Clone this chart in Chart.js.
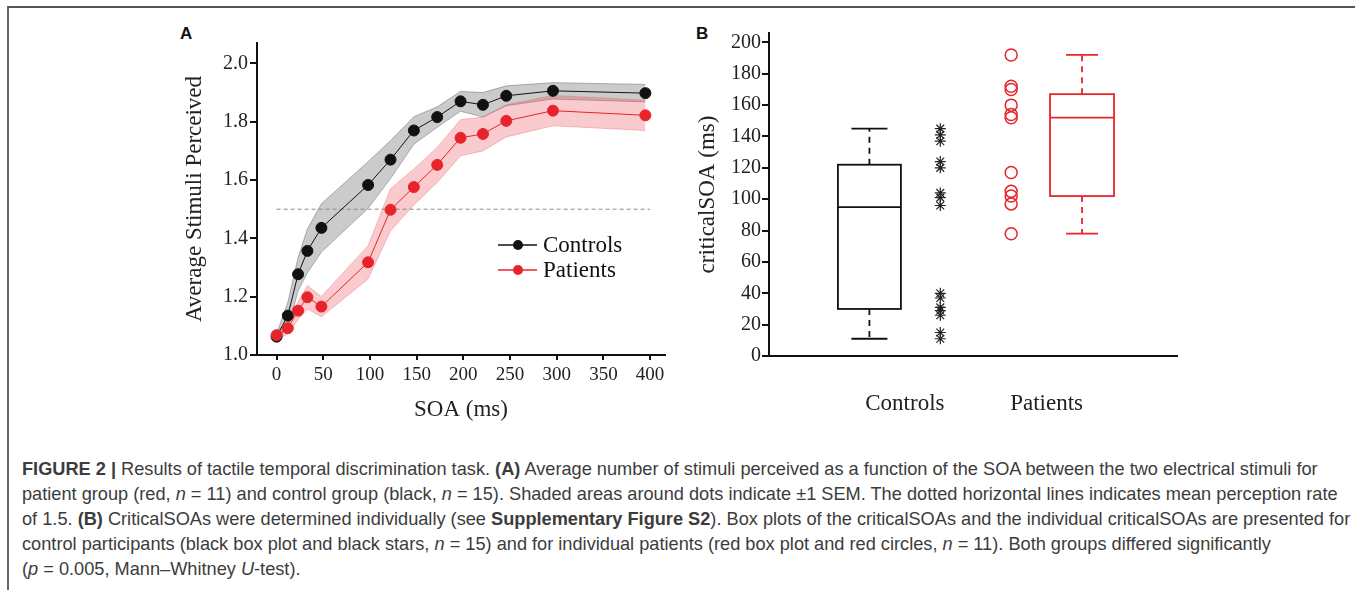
<!DOCTYPE html>
<html>
<head>
<meta charset="utf-8">
<script src="https://cdn.jsdelivr.net/npm/chart.js@4.4.1/dist/chart.umd.min.js"></script>
<style>
body { margin: 0; background: #fff; width: 1355px; height: 590px; overflow: hidden; position: relative; }
#frame { position: absolute; left: 7px; top: 6px; width: 1346px; height: 600px; border-top: 2px solid #555; border-left: 2px solid #666; border-right: 1px solid #e2e2e2; }
.tag { position: absolute; font: bold 17px "Liberation Sans", Arial, sans-serif; color: #111; }
#wrapA { position: absolute; left: 150px; top: 20px; width: 530px; height: 420px; }
#wrapB { position: absolute; left: 690px; top: 20px; width: 510px; height: 420px; }
#caption { position: absolute; left: 22px; top: 457px; font: 18.2px "Liberation Sans Narrow", "Liberation Sans", sans-serif; color: #3c3c3c; }
#caption div { height: 25px; line-height: 25px; white-space: nowrap; }
</style>
</head>
<body>
<div id="frame"></div>
<div class="tag" style="left:180px;top:24px">A</div>
<div class="tag" style="left:696px;top:24px">B</div>
<div id="wrapA"><canvas id="chartA" width="530" height="420"></canvas></div>
<div id="wrapB"><canvas id="chartB" width="510" height="420"></canvas></div>
<div id="caption">
<div><b>FIGURE 2 |</b> Results of tactile temporal discrimination task. <b>(A)</b> Average number of stimuli perceived as a function of the SOA between the two electrical stimuli for</div>
<div>patient group (red, <i>n</i> = 11) and control group (black, <i>n</i> = 15). Shaded areas around dots indicate ±1 SEM. The dotted horizontal lines indicates mean perception rate</div>
<div>of 1.5. <b>(B)</b> CriticalSOAs were determined individually (see <b>Supplementary Figure S2</b>). Box plots of the criticalSOAs and the individual criticalSOAs are presented for</div>
<div>control participants (black box plot and black stars, <i>n</i> = 15) and for individual patients (red box plot and red circles, <i>n</i> = 11). Both groups differed significantly</div>
<div>(<i>p</i> = 0.005, Mann–Whitney <i>U</i>-test).</div>
</div>
<script>
// panel A: mean stimuli perceived per SOA, with SEM
var soa = [0, 12, 23, 33, 48, 98, 122, 147, 172, 197, 221, 246, 296, 395];
var controlsMean = [1.063, 1.135, 1.277, 1.357, 1.436, 1.583, 1.670, 1.770, 1.816, 1.870, 1.858, 1.889, 1.906, 1.898];
var controlsSem = [0.010, 0.045, 0.057, 0.075, 0.083, 0.080, 0.065, 0.047, 0.035, 0.034, 0.042, 0.034, 0.028, 0.030];
var patientsMean = [1.068, 1.092, 1.152, 1.198, 1.166, 1.318, 1.498, 1.576, 1.652, 1.745, 1.758, 1.803, 1.838, 1.822];
var patientsSem = [0.015, 0.020, 0.030, 0.040, 0.035, 0.057, 0.072, 0.062, 0.060, 0.062, 0.058, 0.055, 0.052, 0.052];
var threshold = 1.5;
var thresholdRange = [0, 400];
var soaTicks = [0, 50, 100, 150, 200, 250, 300, 350, 400];
var perceivedTicks = [1.0, 1.2, 1.4, 1.6, 1.8, 2.0];

// panel B: individual criticalSOAs and box plots
var groups = ['Controls', 'Patients'];
var groupTickPos = [1.5, 3.5];
var controlsStars = [145, 141, 137, 124, 120, 104, 101, 96, 40, 37, 31, 29, 26, 15, 11];
var patientsCircles = [192, 172, 170, 160, 154, 152, 117, 105, 102, 97, 78];
var controlsBox = [11, 30, 95, 122, 145];   // min, q1, median, q3, max
var patientsBox = [78, 102, 152, 167, 192];
var criticalTicks = [0, 20, 40, 60, 80, 100, 120, 140, 160, 180, 200];

var serif = '"Liberation Serif", "Times New Roman", serif';
var BLACK = '#111111';
var RED = '#e8242b';

function band(mean, sem, sign) {
	return soa.map(function(x, i) {
		return { x: x, y: mean[i] + sign * sem[i] };
	});
}
function pairs(xs, ys) {
	return xs.map(function(x, i) { return { x: x, y: ys[i] }; });
}

var legendPlugin = {
	id: 'lineLegend',
	afterDraw: function(chart) {
		var ctx = chart.ctx;
		var area = chart.chartArea;
		var items = [chart.data.datasets[1], chart.data.datasets[0]];
		ctx.save();
		items.forEach(function(ds, i) {
			var y = area.top + 202 + i * 25;
			var x0 = area.left + 241;
			ctx.strokeStyle = ds.borderColor;
			ctx.lineWidth = 1.5;
			ctx.beginPath();
			ctx.moveTo(x0, y);
			ctx.lineTo(x0 + 39, y);
			ctx.stroke();
			ctx.fillStyle = ds.pointBackgroundColor;
			ctx.beginPath();
			ctx.arc(x0 + 20, y, 5, 0, Math.PI * 2);
			ctx.fill();
			ctx.fillStyle = BLACK;
			ctx.font = '23px ' + serif;
			ctx.textBaseline = 'middle';
			ctx.fillText(ds.label, x0 + 45, y + 1);
		});
		ctx.restore();
	}
};

var chartA = new Chart(document.getElementById('chartA').getContext('2d'), {
	type: 'line',
	data: {
		datasets: [
			{ label: 'Patients', data: pairs(soa, patientsMean), borderColor: RED, borderWidth: 1, pointBackgroundColor: RED, pointBorderColor: RED, pointRadius: 5.5, fill: false },
			{ label: 'Controls', data: pairs(soa, controlsMean), borderColor: BLACK, borderWidth: 1, pointBackgroundColor: BLACK, pointBorderColor: BLACK, pointRadius: 5.5, fill: false },
			{ label: 'threshold', data: [{ x: thresholdRange[0], y: threshold }, { x: thresholdRange[1], y: threshold }], borderColor: '#8a8a8a', borderWidth: 1, borderDash: [4, 3], pointRadius: 0, fill: false },
			{ label: 'patients upper', data: band(patientsMean, patientsSem, 1), borderColor: 'rgba(230,90,100,0.35)', borderWidth: 1, backgroundColor: 'rgba(236,70,80,0.28)', pointRadius: 0, fill: '+1' },
			{ label: 'patients lower', data: band(patientsMean, patientsSem, -1), borderColor: 'rgba(230,90,100,0.35)', borderWidth: 1, pointRadius: 0, fill: false },
			{ label: 'controls upper', data: band(controlsMean, controlsSem, 1), borderColor: 'rgba(90,90,90,0.45)', borderWidth: 1, backgroundColor: 'rgba(130,130,130,0.42)', pointRadius: 0, fill: '+1' },
			{ label: 'controls lower', data: band(controlsMean, controlsSem, -1), borderColor: 'rgba(90,90,90,0.45)', borderWidth: 1, pointRadius: 0, fill: false }
		]
	},
	options: {
		responsive: false,
		animation: false,
		layout: { padding: { top: 23, right: 15, left: 0, bottom: 0 } },
		plugins: { legend: { display: false }, tooltip: { enabled: false } },
		scales: {
			x: {
				type: 'linear', min: -21, max: 416,
				afterBuildTicks: function(scale) { scale.ticks = soaTicks.map(function(v) { return { value: v }; }); },
				afterFit: function(scale) { scale.height = 85; },
				border: { color: BLACK, width: 2 },
				grid: { drawOnChartArea: false, drawTicks: true, tickLength: 5, color: BLACK, lineWidth: 2 },
				ticks: { color: '#222', padding: 4, font: { family: serif, size: 19 }, maxRotation: 0 },
				title: { display: true, text: 'SOA (ms)', color: '#222', font: { family: serif, size: 23 }, padding: { top: 0, bottom: 16 } }
			},
			y: {
				type: 'linear', min: 1, max: 2.07,
				afterBuildTicks: function(scale) { scale.ticks = perceivedTicks.map(function(v) { return { value: v }; }); },
				afterFit: function(scale) { scale.width = 107; },
				border: { color: BLACK, width: 2 },
				grid: { drawOnChartArea: false, drawTicks: true, tickLength: 7, color: BLACK, lineWidth: 2 },
				ticks: { color: '#222', padding: 2, font: { family: serif, size: 20 }, callback: function(v) { return Number(v).toFixed(1); } },
				title: { display: true, text: 'Average Stimuli Perceived', color: '#222', font: { family: serif, size: 23 }, padding: { top: 31, bottom: 0 } }
			}
		}
	},
	plugins: [legendPlugin]
});

var boxPlugin = {
	id: 'boxes',
	afterDatasetsDraw: function(chart) {
		var ctx = chart.ctx;
		var xs = chart.scales.x;
		var ys = chart.scales.y;
		var boxes = [
			{ pos: 1, s: controlsBox, color: BLACK, half: 31.5, cap: 18 },
			{ pos: 4, s: patientsBox, color: RED, half: 32, cap: 16 }
		];
		ctx.save();
		boxes.forEach(function(b) {
			var cx = xs.getPixelForValue(b.pos);
			var yMin = ys.getPixelForValue(b.s[0]);
			var yQ1 = ys.getPixelForValue(b.s[1]);
			var yMed = ys.getPixelForValue(b.s[2]);
			var yQ3 = ys.getPixelForValue(b.s[3]);
			var yMax = ys.getPixelForValue(b.s[4]);
			ctx.strokeStyle = b.color;
			ctx.lineWidth = 1.8;
			ctx.setLineDash([]);
			ctx.strokeRect(cx - b.half, yQ3, b.half * 2, yQ1 - yQ3);
			ctx.beginPath();
			ctx.moveTo(cx - b.half, yMed); ctx.lineTo(cx + b.half, yMed);
			ctx.moveTo(cx - b.cap, yMax); ctx.lineTo(cx + b.cap, yMax);
			ctx.moveTo(cx - b.cap, yMin); ctx.lineTo(cx + b.cap, yMin);
			ctx.stroke();
			ctx.setLineDash([6, 5]);
			ctx.beginPath();
			ctx.moveTo(cx, yQ3); ctx.lineTo(cx, yMax);
			ctx.moveTo(cx, yQ1); ctx.lineTo(cx, yMin);
			ctx.stroke();
		});
		ctx.restore();
	}
};

var chartB = new Chart(document.getElementById('chartB').getContext('2d'), {
	type: 'scatter',
	data: {
		datasets: [
			{ label: 'Controls', data: controlsStars.map(function(v) { return { x: 2, y: v }; }), pointStyle: 'star', pointRadius: 5.5, borderWidth: 1.2, borderColor: '#222', backgroundColor: '#222' },
			{ label: 'Patients', data: patientsCircles.map(function(v) { return { x: 3, y: v }; }), pointStyle: 'circle', pointRadius: 6, borderWidth: 1.5, borderColor: RED, backgroundColor: 'rgba(0,0,0,0)' }
		]
	},
	options: {
		responsive: false,
		animation: false,
		layout: { padding: { top: 7, right: 23, left: 0, bottom: 0 } },
		plugins: { legend: { display: false }, tooltip: { enabled: false } },
		scales: {
			x: {
				type: 'linear', min: -0.417, max: 5.34,
				afterBuildTicks: function(scale) { scale.ticks = groupTickPos.map(function(v) { return { value: v }; }); },
				afterFit: function(scale) { scale.height = 84; },
				border: { color: BLACK, width: 2 },
				grid: { display: false },
				ticks: { color: '#222', padding: 26, font: { family: serif, size: 23 }, maxRotation: 0, callback: function(v) { return groups[groupTickPos.indexOf(v)]; } }
			},
			y: {
				type: 'linear', min: 0, max: 206,
				afterBuildTicks: function(scale) { scale.ticks = criticalTicks.map(function(v) { return { value: v }; }); },
				afterFit: function(scale) { scale.width = 79; },
				border: { color: BLACK, width: 2 },
				grid: { drawOnChartArea: false, drawTicks: true, tickLength: 7, color: BLACK, lineWidth: 2 },
				ticks: { color: '#222', padding: 1, font: { family: serif, size: 20 } },
				title: { display: true, text: 'criticalSOA (ms)', color: '#222', font: { family: serif, size: 23 }, padding: { top: 4, bottom: 0 } }
			}
		}
	},
	plugins: [boxPlugin]
});
</script>
</body>
</html>
